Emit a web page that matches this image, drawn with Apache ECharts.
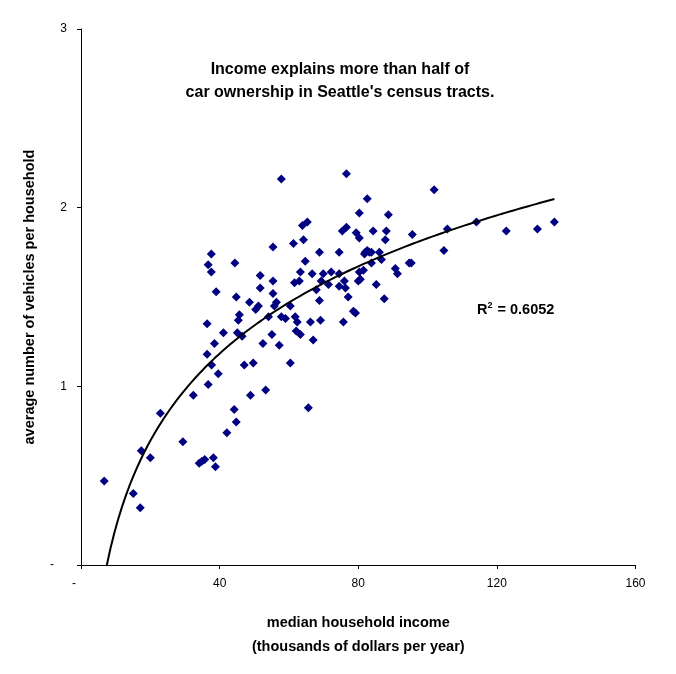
<!DOCTYPE html>
<html>
<head>
<meta charset="utf-8">
<title>Income and car ownership</title>
<script src="https://cdn.jsdelivr.net/npm/echarts@6.0.0/dist/echarts.min.js"></script>
<style>
  html, body { margin: 0; padding: 0; background: #fff; }
  #chart { width: 676px; height: 674px; }
</style>
</head>
<body>
<div id="chart"></div>
<script>
// census tracts: median household income (thousands of $) and vehicles per household
var incomeK = [
  57.8, 37.6, 36.7, 37.6, 44.4, 55.4, 51.7, 55.4, 39.0, 51.7,
  44.8, 55.4, 48.6, 51.2, 50.4, 56.4, 55.8, 57.8, 54.1, 45.7,
  45.4, 36.4, 41.1, 45.1, 46.5, 55.1, 38.5, 52.5, 57.2, 36.4,
  49.7, 37.7, 39.6, 47.1, 60.4, 36.7, 32.4, 48.9, 53.3, 65.6,
  22.9, 44.2, 44.8, 42.1, 29.4, 17.4, 20.0, 34.1, 34.9, 35.7,
  38.2, 38.8, 6.7, 15.1, 17.1,
  76.6, 101.9, 82.6, 80.3, 88.7, 65.3, 63.9, 76.6, 75.4, 79.4,
  84.3, 88.1, 80.3, 87.8, 95.6, 105.7, 64.2, 61.3, 74.5, 68.8,
  82.6, 82.0, 83.2, 81.8, 83.8, 86.1, 86.7, 83.8, 104.7, 64.7,
  94.7, 95.3, 90.7, 91.3, 63.3, 66.7, 69.9, 72.2, 74.5, 81.5,
  80.3, 63.0, 61.6, 69.3, 76.0, 80.0, 80.6, 71.4, 74.5, 76.3,
  67.9, 85.2, 77.1, 68.8, 87.5, 60.4, 78.6, 79.2, 59.0, 61.8,
  62.4, 66.2, 69.1, 75.7, 62.1, 63.3, 67.0, 114.1, 122.7, 131.7,
  136.6
];
var vehiclesPerHH = [
  2.16, 1.74, 1.68, 1.64, 1.69, 1.78, 1.62, 1.59, 1.53, 1.55,
  1.50, 1.52, 1.47, 1.45, 1.43, 1.47, 1.45, 1.39, 1.39, 1.40,
  1.37, 1.35, 1.30, 1.30, 1.28, 1.29, 1.24, 1.24, 1.23, 1.18,
  1.13, 1.12, 1.07, 1.12, 1.13, 1.01, 0.95, 0.95, 0.98, 0.88,
  0.85, 0.87, 0.80, 0.74, 0.69, 0.64, 0.60, 0.57, 0.58, 0.59,
  0.60, 0.55, 0.47, 0.40, 0.32,
  2.19, 2.10, 2.05, 1.97, 1.96, 1.92, 1.90, 1.89, 1.87, 1.86,
  1.87, 1.87, 1.83, 1.82, 1.85, 1.88, 1.82, 1.80, 1.75, 1.75,
  1.76, 1.75, 1.75, 1.74, 1.75, 1.75, 1.71, 1.69, 1.76, 1.70,
  1.69, 1.69, 1.66, 1.63, 1.64, 1.63, 1.63, 1.64, 1.63, 1.65,
  1.64, 1.59, 1.58, 1.59, 1.59, 1.59, 1.60, 1.57, 1.56, 1.55,
  1.54, 1.57, 1.50, 1.48, 1.49, 1.45, 1.42, 1.41, 1.38, 1.39,
  1.36, 1.36, 1.37, 1.36, 1.31, 1.29, 1.26, 1.92, 1.87, 1.88,
  1.92
];
var xTicks = [0, 40, 80, 120, 160];
var yTicks = [0, 1, 2, 3];
var titleLines = ['Income explains more than half of', "car ownership in Seattle's census tracts."];
var r2Text = '0.6052';

// scatter points
var points = [];
for (var i = 0; i < incomeK.length; i++) {
  points.push([incomeK[i], vehiclesPerHH[i]]);
}

// logarithmic trendline (least squares on ln x), like the spreadsheet one
var n = incomeK.length, sx = 0, sy = 0, sxx = 0, sxy = 0;
for (var j = 0; j < n; j++) {
  var lx = Math.log(incomeK[j]);
  sx += lx; sy += vehiclesPerHH[j]; sxx += lx * lx; sxy += lx * vehiclesPerHH[j];
}
var slope = (n * sxy - sx * sy) / (n * sxx - sx * sx);
var icpt = (sy - slope * sx) / n;
var xMin = Math.max(Math.min.apply(null, incomeK), Math.exp(-icpt / slope));
var xMax = Math.max.apply(null, incomeK);
var trend = [];
for (var k = 0; k <= 120; k++) {
  var xv = xMin + (xMax - xMin) * k / 120;
  trend.push([xv, slope * Math.log(xv) + icpt]);
}

var chart = echarts.init(document.getElementById('chart'), null, { renderer: 'canvas' });
var FONT = '"Liberation Sans", Arial, sans-serif';

var option = {
  animation: false,
  backgroundColor: '#fff',
  textStyle: { fontFamily: FONT, color: '#000' },
  grid: { left: 81, right: 40.5, top: 29, bottom: 109, containLabel: false },
  xAxis: {
    type: 'value',
    min: xTicks[0],
    max: xTicks[xTicks.length - 1],
    interval: xTicks[1] - xTicks[0],
    name: 'median household income\n(thousands of dollars per year)',
    nameLocation: 'middle',
    nameGap: 46,
    nameTextStyle: { fontFamily: FONT, fontWeight: 'bold', fontSize: 14.5, color: '#000', lineHeight: 24 },
    axisLine: { lineStyle: { color: '#000', width: 1 } },
    axisTick: { inside: false, length: 4, lineStyle: { color: '#000' } },
    splitLine: { show: false },
    axisLabel: {
      margin: 13,
      fontFamily: FONT,
      fontSize: 12,
      color: '#000',
      formatter: function (v) { return v === 0 ? '{d|-}' : String(v); },
      rich: { d: { padding: [0, 14, 0, 0], fontSize: 12, fontFamily: FONT, color: '#000' } }
    }
  },
  yAxis: {
    type: 'value',
    min: yTicks[0],
    max: yTicks[yTicks.length - 1],
    interval: yTicks[1] - yTicks[0],
    name: 'average number of vehicles per household',
    nameLocation: 'middle',
    nameGap: 44,
    nameTextStyle: { fontFamily: FONT, fontWeight: 'bold', fontSize: 14.5, color: '#000' },
    axisLine: { show: true, lineStyle: { color: '#000', width: 1 } },
    axisTick: { show: true, inside: false, length: 4, lineStyle: { color: '#000' } },
    splitLine: { show: false },
    axisLabel: {
      margin: 14,
      fontFamily: FONT,
      fontSize: 12,
      color: '#000',
      formatter: function (v) { return v === 0 ? '{d|-}' : String(v); },
      rich: { d: { padding: [0, 13, 0, 0], fontSize: 12, fontFamily: FONT, color: '#000' } }
    }
  },
  graphic: [
    {
      // two-line title centred over the plot
      type: 'text',
      x: 340,
      y: 58,
      style: {
        text: titleLines.join('\n'),
        align: 'center',
        verticalAlign: 'top',
        font: 'bold 16px ' + FONT,
        lineHeight: 23,
        fill: '#000'
      }
    },
    {
      type: 'text',
      x: 477,
      y: 301,
      style: {
        text: 'R{s|2} = ' + r2Text,
        font: 'bold 14.5px ' + FONT,
        verticalAlign: 'top',
        fill: '#000',
        rich: { s: { fontSize: 9, fontWeight: 'bold', fontFamily: FONT, verticalAlign: 'top', padding: [0, 1, 8, 0] } }
      }
    }
  ],
  series: [
    {
      name: 'tracts',
      type: 'scatter',
      data: points,
      symbol: 'diamond',
      symbolSize: 9,
      itemStyle: { color: '#000080', opacity: 1 },
      z: 3
    },
    {
      name: 'log trend',
      type: 'line',
      data: trend,
      showSymbol: false,
      smooth: false,
      clip: true,
      lineStyle: { color: '#000', width: 2 },
      z: 4
    }
  ]
};

chart.setOption(option);
</script>
</body>
</html>
